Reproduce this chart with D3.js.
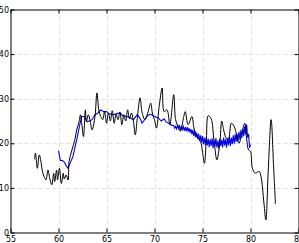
<!DOCTYPE html>
<html><head><meta charset="utf-8">
<script src="https://cdn.jsdelivr.net/npm/d3@7"></script>
<style>html,body{margin:0;padding:0;background:#fff;overflow:hidden}</style>
</head><body>
<script>
const xTicks = [55,60,65,70,75,80,85];
const yTicks = [0,10,20,30,40,50];

const blackX = [57.5,57.6,57.8,58.0,58.2,58.3,58.5,58.7,58.9,59.1,59.3,59.5,59.6,59.8,59.9,60.1,60.3,60.5,60.6,60.8,61.0,61.1,61.4,61.7,61.9,62.1,62.3,62.4,62.6,62.8,62.9,63.1,63.3,63.5,63.8,64.0,64.2,64.4,64.6,64.8,65.0,65.2,65.4,65.6,65.8,66.0,66.2,66.4,66.6,66.8,67.0,67.2,67.4,67.6,67.8,68.0,68.2,68.5,68.7,69.0,69.3,69.6,69.8,70.0,70.2,70.5,70.8,71.0,71.3,71.6,72.0,72.2,72.5,72.7,73.0,73.2,73.5,73.9,74.1,74.4,74.8,75.0,75.2,75.4,75.6,75.9,76.2,76.5,76.8,77.0,77.2,77.5,77.7,78.0,78.3,78.8,79.1,79.4,79.6,79.8,80.0,80.2,80.5,80.9,81.1,81.4,81.6,81.85,82.15,82.4,82.6];
const blackY = [16.4,17.8,14.4,17.4,15.5,14.0,12.5,11.8,14.0,12.0,10.7,13.3,11.4,14.0,11.8,14.4,11.0,13.3,12.0,12.9,11.8,15.9,18.5,20.8,23.0,24.5,26.4,24.9,21.5,27.5,24.9,26.4,25.0,23.0,26.0,31.3,27.5,26.0,25.3,27.1,24.5,26.8,25.0,27.3,24.5,26.5,25.3,27.0,24.2,26.4,25.0,27.5,25.5,26.8,25.0,21.9,25.5,30.2,27.0,25.3,26.8,29.0,26.5,25.3,23.4,28.5,32.4,27.1,27.5,24.2,30.9,25.3,23.5,22.7,25.5,27.1,24.2,26.0,23.5,21.5,20.4,18.0,15.5,21.0,26.2,25.5,20.5,16.3,20.0,25.0,23.0,21.0,20.8,24.5,23.8,20.0,22.3,24.5,21.0,18.5,18.2,14.4,13.3,13.7,12.5,6.6,2.8,14.0,25.3,15.0,6.4];

const blueX = [60.0,60.2,60.4,60.6,60.8,61.0,61.2,61.5,61.9,62.2,62.4,62.7,63.0,63.2,63.5,63.8,64.1,64.4,64.7,65.0,65.3,65.7,66.0,66.4,66.7,67.1,67.4,67.8,68.2,68.5,68.7,69.0,69.2,69.5,69.7,70.0,70.4,70.7,71.0,71.2,71.5,71.8,
72.0,72.1,72.2,72.3,72.4,72.5,72.6,72.7,72.8,72.9,73.0,73.1,73.2,73.3,73.4,73.5,73.6,73.7,73.8,73.9,74.0,74.1,74.2,74.3,74.4,74.5,74.6,74.7,74.8,74.9,75.0,75.1,75.2,75.3,75.4,75.5,75.6,75.7,75.8,75.9,76.0,76.1,76.2,76.3,76.4,76.5,76.6,76.7,76.8,76.9,77.0,77.1,77.2,77.3,77.4,77.5,77.6,77.7,77.8,77.9,78.0,78.1,78.2,78.3,78.4,78.5,78.6,78.7,78.8,78.9,79.0,79.1,79.2,79.3,79.4,79.5,79.6,79.7,79.8,79.9,80.0];
const blueY = [18.3,16.1,16.2,15.8,15.0,14.4,15.5,17.0,20.8,24.0,26.0,26.0,24.8,25.0,25.3,26.4,26.8,27.5,27.1,27.1,26.6,26.4,26.6,26.8,26.2,26.0,25.8,25.3,26.4,25.6,24.5,25.4,26.0,26.5,26.4,26.0,25.7,25.0,25.5,24.8,24.5,24.0,
24.0,23.4,23.8,23.2,24.0,23.4,24.1,23.0,23.7,23.1,23.8,22.8,23.6,22.7,23.7,22.6,23.4,22.4,23.2,22.0,23.0,21.6,22.8,21.3,22.4,21.0,22.1,20.5,21.8,20.2,21.6,19.8,21.2,19.6,21.4,19.5,21.0,19.2,20.9,19.4,21.1,18.9,20.8,19.3,21.2,19.0,20.6,18.8,21.0,19.4,20.8,19.1,21.3,19.5,20.9,19.0,21.2,19.6,21.5,19.4,21.3,19.8,21.8,19.9,22.0,20.3,22.2,20.5,22.6,20.8,23.0,21.2,23.3,21.6,23.8,22.0,24.2,21.3,22.1,19.0,19.7];

const W = 299, H = 243;
const svg = d3.select("body").append("svg").attr("width", W).attr("height", H)
  .style("font-family", "DejaVu Sans").style("display","block");

const x = d3.scaleLinear().domain([55,85]).range([10.5,298.5]);
const y = d3.scaleLinear().domain([0,50]).range([232.5,9.5]);

// grid
const grid = svg.append("g").attr("stroke","#e0e0e0").attr("stroke-dasharray","4,3").attr("stroke-width",1);
grid.selectAll("line.gx").data(xTicks.slice(1,-1)).join("line")
  .attr("x1", d=>Math.round(x(d))+0.5).attr("x2", d=>Math.round(x(d))+0.5)
  .attr("y1", y(50)).attr("y2", y(0));
grid.selectAll("line.gy").data(yTicks.slice(1,-1)).join("line")
  .attr("y1", d=>Math.round(y(d))+0.5).attr("y2", d=>Math.round(y(d))+0.5)
  .attr("x1", x(55)).attr("x2", x(85));

// lines
const bData = blackX.map((v,i)=>[v, blackY[i]]);
const uData = blueX.map((v,i)=>[v, blueY[i]]);
svg.append("path").datum(uData).attr("fill","none").attr("stroke","#0000ff").attr("stroke-width",1.1)
  .attr("d", d3.line().x(d=>x(d[0])).y(d=>y(d[1])));
svg.append("path").datum(bData).attr("fill","none").attr("stroke","#000").attr("stroke-width",1)
  .attr("d", d3.line().curve(d3.curveCatmullRom).x(d=>x(d[0])).y(d=>y(d[1])));

// axes
function style(g){
  g.selectAll("path.domain").attr("stroke","#000");
  g.selectAll(".tick line").attr("stroke","#000");
  g.selectAll("text").attr("fill","#000").style("font-size","8px").style("font-family","DejaVu Sans");
}
svg.append("g").attr("transform",`translate(0,${y(0)})`)
  .call(d3.axisBottom(x).tickValues(xTicks).tickSizeInner(-4).tickSizeOuter(0).tickPadding(3.5).tickFormat(d3.format("d")))
  .call(style);
svg.append("g").attr("transform",`translate(${x(55)},0)`)
  .call(d3.axisLeft(y).tickValues(yTicks).tickSizeInner(-4).tickSizeOuter(0).tickPadding(1.5).tickFormat(d3.format("d")))
  .call(style);
svg.append("g").attr("transform",`translate(0,${y(50)})`)
  .call(d3.axisTop(x).tickValues(xTicks).tickSizeInner(-4).tickSizeOuter(0).tickFormat(""))
  .call(style);
svg.append("g").attr("transform",`translate(${x(85)},0)`)
  .call(d3.axisRight(y).tickValues(yTicks).tickSizeInner(-4).tickSizeOuter(0).tickFormat(""))
  .call(style);
</script>
</body></html>
